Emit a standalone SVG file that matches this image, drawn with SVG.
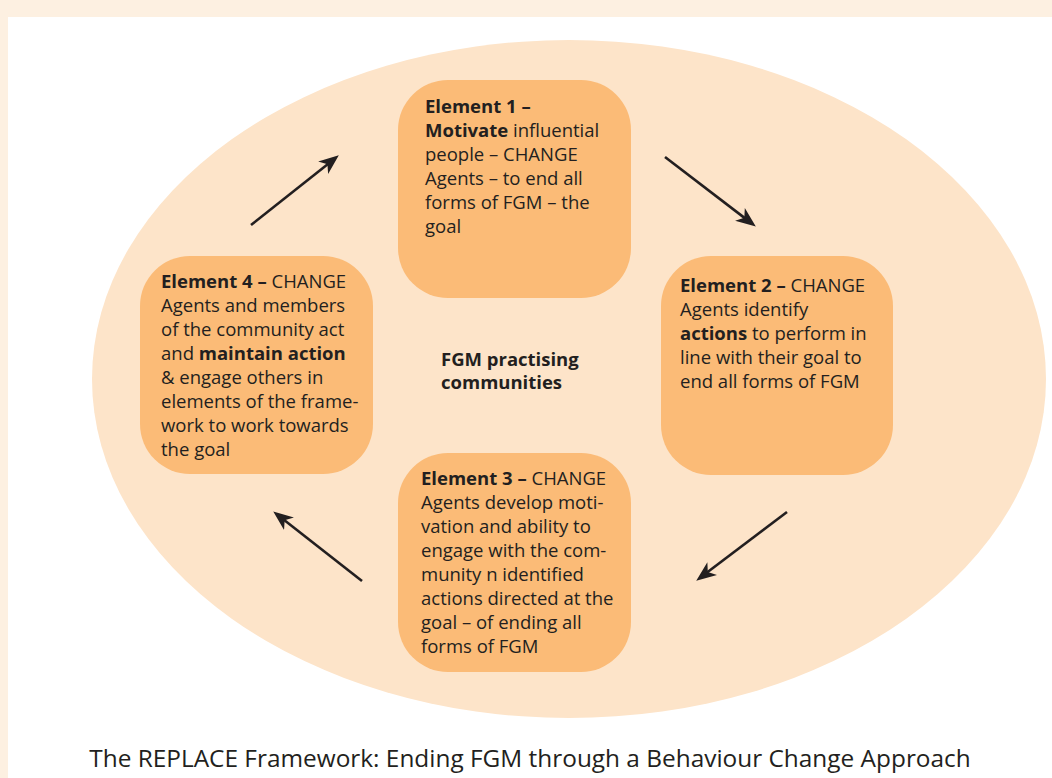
<svg xmlns="http://www.w3.org/2000/svg" width="1052" height="778" viewBox="0 0 1052 778">
<style>
.box{fill:#fbbb77}
.t{font-family:"Open Sans","Noto Sans","Liberation Sans",sans-serif;font-size:18.5px;fill:#231f20}
.b{font-weight:bold}
.arr{stroke:#231f20;stroke-width:2.6;fill:none}
</style>
<defs>
<marker id="ah" viewBox="0 -9 22 18" markerWidth="22" markerHeight="18" markerUnits="userSpaceOnUse" refX="9" refY="0" orient="auto">
<path d="M0,-8 L20,0 L0,8 L5.5,0 z" fill="#231f20"/>
</marker>
</defs>
<rect x="0" y="0" width="1052" height="778" fill="#ffffff"/>
<rect x="0" y="0" width="1052" height="17" fill="#fdf0e1"/>
<rect x="0" y="0" width="8" height="778" fill="#fdf0e1"/>
<g id="background">
<ellipse cx="569" cy="379" rx="477" ry="339" fill="#fde4c9"/>
</g>
<g id="connectors">
<line class="arr" x1="251" y1="225" x2="330.2" y2="162.2" marker-end="url(#ah)"/>
<line class="arr" x1="665" y1="157" x2="747.1" y2="219.9" marker-end="url(#ah)"/>
<line class="arr" x1="787" y1="512" x2="705" y2="574" marker-end="url(#ah)"/>
<line class="arr" x1="362" y1="581" x2="281.9" y2="518.2" marker-end="url(#ah)"/>
</g>
<g id="element1">
<rect class="box" x="398" y="80" width="233" height="218" rx="50"/>
<text class="t" x="425" y="113"><tspan class="b">Element 1 –</tspan></text>
<text class="t" x="425" y="137"><tspan class="b">Motivate</tspan> influential</text>
<text class="t" x="425" y="161">people – CHANGE</text>
<text class="t" x="425" y="185">Agents – to end all</text>
<text class="t" x="425" y="209">forms of FGM – the</text>
<text class="t" x="425" y="233">goal</text>
</g>
<g id="element2">
<rect class="box" x="661" y="256" width="232" height="219" rx="50"/>
<text class="t" x="680" y="292"><tspan class="b">Element 2 –</tspan> CHANGE</text>
<text class="t" x="680" y="316">Agents identify</text>
<text class="t" x="680" y="340"><tspan class="b">actions</tspan> to perform in</text>
<text class="t" x="680" y="364">line with their goal to</text>
<text class="t" x="680" y="388">end all forms of FGM</text>
</g>
<g id="element3">
<rect class="box" x="398" y="453" width="233" height="219" rx="50"/>
<text class="t" x="421" y="485"><tspan class="b">Element 3 –</tspan> CHANGE</text>
<text class="t" x="421" y="509">Agents develop moti-</text>
<text class="t" x="421" y="533">vation and ability to</text>
<text class="t" x="421" y="557">engage with the com-</text>
<text class="t" x="421" y="581">munity n identified</text>
<text class="t" x="421" y="605">actions directed at the</text>
<text class="t" x="421" y="629">goal – of ending all</text>
<text class="t" x="421" y="653">forms of FGM</text>
</g>
<g id="element4">
<rect class="box" x="140" y="256" width="233" height="218" rx="50"/>
<text class="t" x="161" y="288"><tspan class="b">Element 4 –</tspan> CHANGE</text>
<text class="t" x="161" y="312">Agents and members</text>
<text class="t" x="161" y="336">of the community act</text>
<text class="t" x="161" y="360">and <tspan class="b">maintain action</tspan></text>
<text class="t" x="161" y="384">&amp; engage others in</text>
<text class="t" x="161" y="408">elements of the frame-</text>
<text class="t" x="161" y="432">work to work towards</text>
<text class="t" x="161" y="456">the goal</text>
</g>
<g id="center">
<text class="t b" x="441" y="366">FGM practising</text>
<text class="t b" x="441" y="389">communities</text>
</g>
<g id="caption">
<text class="t" x="530" y="767" text-anchor="middle" style="font-size:24.4px">The REPLACE Framework: Ending FGM through a Behaviour Change Approach</text>
</g>
</svg>
